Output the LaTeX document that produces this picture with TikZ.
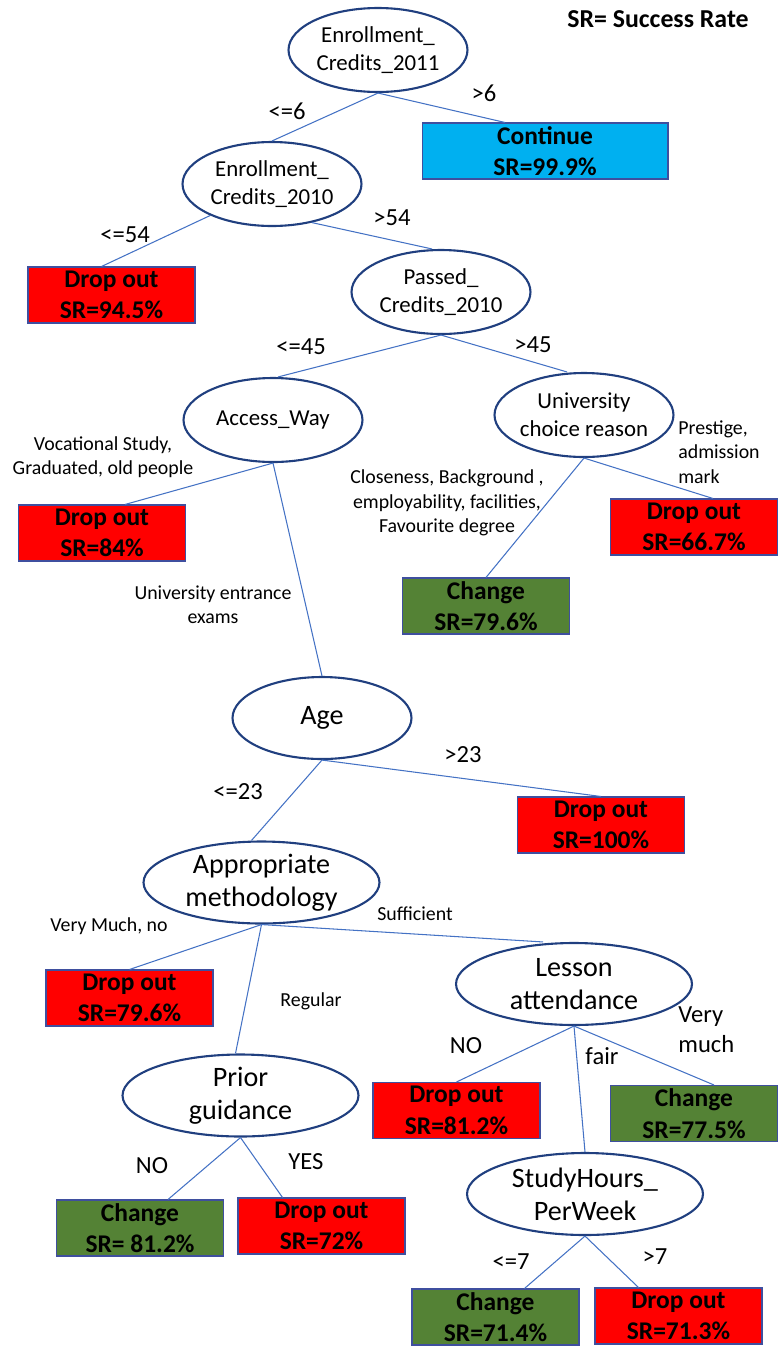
\documentclass[tikz,border=0pt]{standalone}
\usepackage{fontspec}
\setmainfont{Carlito}
\usetikzlibrary{shapes,calc}
\definecolor{ovalline}{HTML}{203F7F}
\definecolor{edgeblue}{HTML}{4472C4}
\definecolor{boxline}{HTML}{3F4F9F}
\definecolor{dropred}{HTML}{FF0000}
\definecolor{changegreen}{HTML}{548235}
\definecolor{contblue}{HTML}{00B0F0}
\tikzstyle{branch} = [draw=edgeblue, line width=0.6pt]
\tikzstyle{attrib} = [draw=ovalline, ellipse, line width=1.2pt, align=center, inner xsep=-2pt, inner ysep=0pt, minimum width=3.58cm, minimum height=1.68cm, font=\fontsize{13}{15.8}\selectfont]
\tikzstyle{bigattrib} = [attrib, inner ysep=-3pt, minimum width=4.72cm, minimum height=1.64cm, font=\fontsize{16}{18.7}\selectfont]
\tikzstyle{leafbox} = [draw=boxline, rectangle, line width=0.6pt, align=center, inner sep=0pt, minimum width=3.34cm, minimum height=1.12cm, font=\bfseries\fontsize{14.5}{18}\selectfont]
\tikzstyle{dropleaf} = [leafbox, fill=dropred]
\tikzstyle{changeleaf} = [leafbox, fill=changegreen]
\tikzstyle{condlabel} = [align=center, inner sep=0pt, font=\fontsize{14}{17}\selectfont]
\tikzstyle{reasonlabel} = [align=center, inner sep=0pt, font=\fontsize{11.3}{13.8}\selectfont]

\begin{document}
\begin{tikzpicture}[x=0.02cm, y=-0.02cm]
        \useasboundingbox (0,0) rectangle (778,1346);
        \node[font=\bfseries\fontsize{14.7}{17}\selectfont] (legend) at (658,19) {SR= Success Rate};
        % splits
        \node[attrib] (root) at (378,50) {Enrollment\_\\Credits\_2011};
        \node[attrib] (e2010) at (272,184) {Enrollment\_\\Credits\_2010};
        \node[attrib] (passed) at (441,292) {Passed\_\\Credits\_2010};
        \node[attrib] (access) at (273,420) {Access\_Way};
        \node[attrib] (ucr) at (584,415) {University\\choice reason};
        \node[bigattrib, minimum width=3.58cm] (age) at (322,718) {Age};
        \node[bigattrib] (appmeth) at (261.5,882.5) {Appropriate\\methodology};
        \node[bigattrib] (lesson) at (574,984) {Lesson\\attendance};
        \node[bigattrib] (prior) at (240.5,1095.5) {Prior\\guidance};
        \node[bigattrib] (sh) at (585,1194) {StudyHours\_\\PerWeek};
        % leaves
        \node[leafbox, fill=contblue, minimum width=4.92cm] (cont) at (545,151) {Continue\\SR=99.9\%};
        \node[dropleaf] (drop945) at (111.5,295) {Drop out\\SR=94.5\%};
        \node[dropleaf] (drop84) at (102,533) {Drop out\\SR=84\%};
        \node[dropleaf] (drop667) at (694,527) {Drop out\\SR=66.7\%};
        \node[changeleaf] (chg796) at (486,606) {Change\\SR=79.6\%};
        \node[dropleaf] (drop100) at (601,825) {Drop out\\SR=100\%};
        \node[dropleaf] (drop796) at (129.5,998) {Drop out\\SR=79.6\%};
        \node[dropleaf] (drop812) at (456.5,1110.5) {Drop out\\SR=81.2\%};
        \node[changeleaf] (chg775) at (694,1113.5) {Change\\SR=77.5\%};
        \node[changeleaf] (chg812) at (140,1228) {Change\\SR= 81.2\%};
        \node[dropleaf] (drop72) at (321.5,1226) {Drop out\\SR=72\%};
        \node[changeleaf] (chg714) at (495.5,1317) {Change\\SR=71.4\%};
        \node[dropleaf] (drop713) at (678.5,1316) {Drop out\\SR=71.3\%};
        % branches
        \path[branch] (root.south) -- (e2010.north);
        \path[branch] (root.south) -- ([xshift=-0.8cm]cont.north);
        \path[branch] (e2010.207) -- ([xshift=-0.2cm]drop945.north);
        \path[branch] (e2010.316) -- ([xshift=-0.18cm]passed.north);
        \path[branch] (passed.south) -- ([xshift=0.1cm]access.north);
        \path[branch] (passed.south) -- ([xshift=-0.34cm]ucr.north);
        \path[branch] (access.south) -- ([xshift=0.46cm]drop84.north);
        \path[branch] (access.south) -- (age.north);
        \path[branch] (ucr.south) -- (chg796.north);
        \path[branch] (ucr.south) -- ([xshift=0.38cm]drop667.north);
        \path[branch] (age.south) -- ([xshift=-0.2cm]appmeth.north);
        \path[branch] (age.south) -- (drop100.north);
        \path[branch] (appmeth.south) -- (drop796.north);
        \path[branch] (appmeth.south) -- ([xshift=-0.1cm]prior.north);
        \path[branch] (appmeth.south) -- ([xshift=-0.62cm]lesson.north);
        \path[branch] (lesson.south) -- (drop812.north);
        \path[branch] (lesson.south) -- (sh.north);
        \path[branch] (lesson.south) -- ([xshift=0.4cm]chg775.north);
        \path[branch] (prior.south) -- ([xshift=0.56cm]chg812.north);
        \path[branch] (prior.south) -- ([xshift=-0.78cm]drop72.north);
        \path[branch] (sh.south) -- ([xshift=0.58cm]chg714.north);
        \path[branch] (sh.south) -- ([xshift=-0.8cm]drop713.north);
        % labels
        \node[condlabel] (gt6) at (484,93) {>6};
        \node[condlabel] (le6) at (287,111) {<=6};
        \node[condlabel] (le54) at (125,235) {<=54};
        \node[condlabel] (gt54) at (392,218) {>54};
        \node[condlabel] (le45) at (301,347) {<=45};
        \node[condlabel] (gt45) at (533,345) {>45};
        \node[reasonlabel] (vocat) at (103,457) {Vocational Study,\\Graduated, old people};
        \node[reasonlabel] (closen) at (447,503) {Closeness, Background ,\\employability, facilities,\\Favourite degree};
        \node[reasonlabel, align=left, anchor=west] (prestige) at (678,452) {Prestige,\\admission\\mark};
        \node[reasonlabel] (uniexam) at (213,605) {University entrance\\exams};
        \node[condlabel] (gt23) at (463,755) {>23};
        \node[condlabel] (le23) at (238,792) {<=23};
        \node[reasonlabel] (vmuchno) at (109,926) {Very Much, no};
        \node[reasonlabel] (suff) at (415,914) {Sufficient};
        \node[reasonlabel] (regular) at (311,1001) {Regular};
        \node[condlabel] (no1) at (466,1046) {NO};
        \node[condlabel] (fair) at (602,1056) {fair};
        \node[condlabel, align=left, anchor=west] (vmuch) at (678,1030) {Very\\much};
        \node[condlabel] (no2) at (152,1166) {NO};
        \node[condlabel] (yes) at (306,1162) {YES};
        \node[condlabel] (le7) at (511,1262) {<=7};
        \node[condlabel] (gt7) at (655,1257) {>7};
    \end{tikzpicture}
\end{document}
